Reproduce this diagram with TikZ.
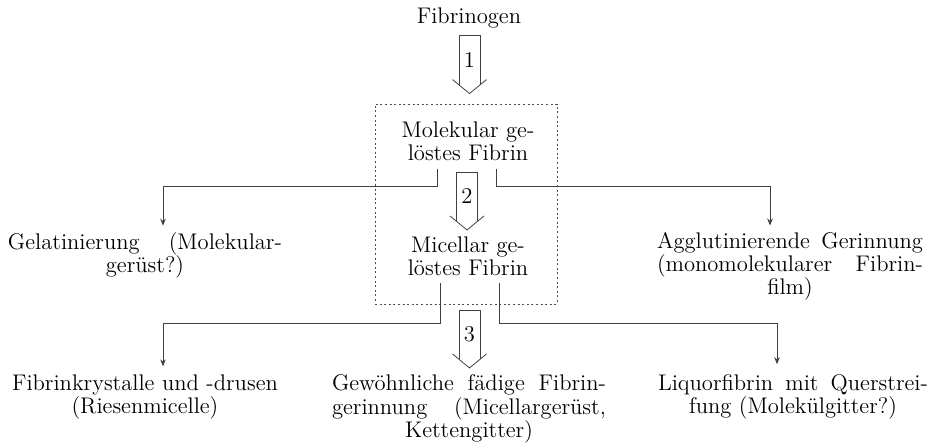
\documentclass[tikz,border=0pt]{standalone}
\usepackage{tikz}
\usetikzlibrary{arrows.meta, positioning, calc, fit}

\tikzset{
  stoff/.style={align=center, inner sep=0pt, font=\fontsize{11.3}{11.6}\selectfont},
  ergebnis/.style={stoff, text width=137pt},
  zweig/.style={thin, draw=black!75, -{Stealth[length=3.5pt,width=2.8pt]}},
  kasten/.style={draw=black!70, thin, dash pattern=on 1pt off 1.3pt, inner sep=0pt},
  pics/hohlpfeil/.style={code={
    \draw[thin, draw=black!75] (-10.5,49) -- (-10.5,0) -- (10.5,0) -- (10.5,49);
    \draw[thin, draw=black!75] (-17,44) -- (0,58) -- (17,44);
    \node[stoff] at (0,24) {#1};
  }}
}
% line of a justified block, stretched to the full width
% (align=center makes the spaces rigid, so give them back their stretch)
\newcommand{\zeile}[2][137pt]{\makebox[#1][s]{\spaceskip=0pt\xspaceskip=0pt #2}}

\begin{document}
\begin{tikzpicture}[x=0.5pt, y=-0.5pt]
  \useasboundingbox (0,0) rectangle (939,446);

  % the two dissolved states inside the dotted frame
  \node[stoff] (fib)   at (469,18)  {Fibrinogen};
  \node[stoff] (molek) at (468,141) {Molekular ge-\\löstes Fibrin};
  \node[stoff] (micel) at (468,256) {Micellar ge-\\löstes Fibrin};
  \coordinate (ecke1) at (375,104);
  \coordinate (ecke2) at (557,304);
  \node[kasten, fit=(ecke1)(ecke2)] (loesung) {};

  % side products
  \node[ergebnis] (gelat) at (145,255)
    {\zeile{Gelatinierung (Molekular-}\\gerüst?)};
  \node[ergebnis, text width=133pt] (agglut) at (790,266)
    {\zeile[133pt]{Agglutinierende Gerinnung}\\\zeile[133pt]{(monomolekularer Fibrin-}\\film)};
  \node[ergebnis] (kryst) at (145,397)
    {Fibrinkrystalle und -drusen\\(Riesenmicelle)};
  \node[ergebnis] (gewoehn) at (469,409)
    {\zeile{Gewöhnliche fädige Fibrin-}\\\zeile{gerinnung (Micellargerüst,}\\Kettengitter)};
  \node[ergebnis, text width=135pt] (liquor) at (793,397)
    {\zeile[135pt]{Liquorfibrin mit Querstrei-}\\fung (Molekülgitter?)};

  % main line: steps 1 to 3
  \pic at ($(fib.south)+(0.5,7)$) {hohlpfeil=1};
  \pic at ($(molek.south)+(-1,11)$) {hohlpfeil=2};
  \pic at ($(micel.south)+(1.5,34)$) {hohlpfeil=3};

  % branches
  \draw[zweig] ($(molek.south)+(-31,8)$) -- ++(0,17) -| ($(gelat.north)+(18,-6)$);
  \draw[zweig] ($(molek.south)+(28,8)$) -- ++(0,17) -| ($(agglut.north)+(-20,-6)$);
  \draw[zweig] ($(micel.south)+(-28,7)$) -- ++(0,40) -| ($(kryst.north)+(18,-8)$);
  \draw[zweig] ($(micel.south)+(31,7)$) -- ++(0,40) -| ($(liquor.north)+(-16,-10)$);
\end{tikzpicture}
\end{document}
